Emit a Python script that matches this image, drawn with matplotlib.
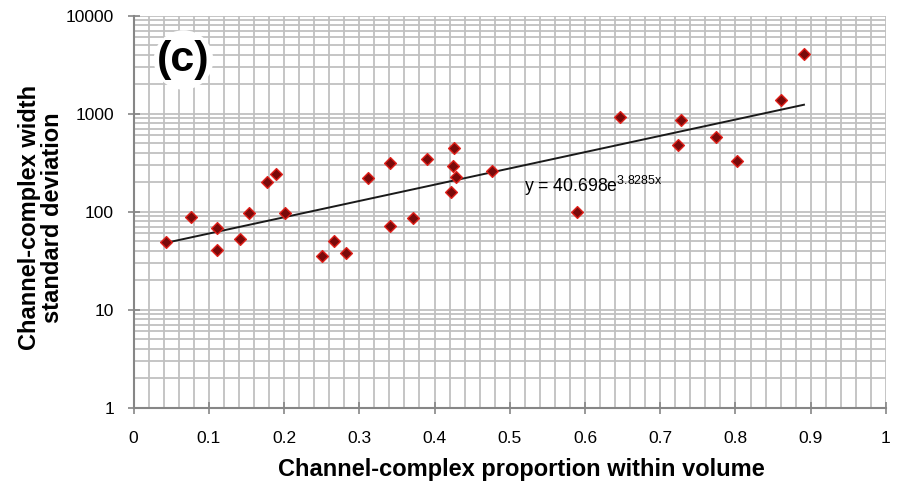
import numpy as np
import matplotlib
matplotlib.use("Agg")
import matplotlib.pyplot as plt
from matplotlib.ticker import LogLocator, FixedLocator, NullFormatter

plt.rcParams['font.family'] = ['Liberation Sans', 'DejaVu Sans']

# Channel-complex proportion within volume
proportion = [0.043, 0.076, 0.111, 0.111, 0.142, 0.154, 0.177, 0.189, 0.201,
              0.251, 0.267, 0.282, 0.311, 0.341, 0.341, 0.371, 0.390, 0.422,
              0.426, 0.425, 0.428, 0.476, 0.590, 0.646, 0.724, 0.728, 0.774,
              0.802, 0.861, 0.891]
# Channel-complex width standard deviation
width_sd = [48.6, 88, 67.6, 40.8, 52.9, 96.8, 200, 242, 97.5,
            35.5, 50.5, 37.8, 222, 313, 70.8, 85.4, 342, 157,
            449, 294, 225, 260, 99, 931, 479, 855, 582,
            326, 1368, 4093]

# Exponential trend fit y = a * exp(b x)
fit_a = 40.698
fit_b = 3.8285

x_ticks = [0, 0.1, 0.2, 0.3, 0.4, 0.5, 0.6, 0.7, 0.8, 0.9, 1]
x_tick_labels = ['0', '0.1', '0.2', '0.3', '0.4', '0.5', '0.6', '0.7', '0.8', '0.9', '1']
y_ticks = [1, 10, 100, 1000, 10000]
y_tick_labels = ['1', '10', '100', '1000', '10000']

fig = plt.figure(figsize=(8.98, 4.86), dpi=100)
ax = fig.add_axes([0.1487, 0.1615, 0.8379, 0.8062])

ax.set_yscale('log')
ax.set_xlim(0, 1)
ax.set_ylim(1, 10000)

grid_color = '#c0c0c0'
ax.set_xticks(x_ticks)
ax.set_xticklabels(x_tick_labels)
ax.xaxis.set_minor_locator(FixedLocator(np.arange(0, 1.0001, 0.02)))
ax.set_yticks(y_ticks)
ax.set_yticklabels(y_tick_labels)
ax.yaxis.set_minor_locator(LogLocator(base=10, subs=np.arange(2, 10)))
ax.yaxis.set_minor_formatter(NullFormatter())

ax.grid(True, which='both', color=grid_color, linewidth=1.3)
ax.set_axisbelow(True)

for side in ['top', 'right']:
    ax.spines[side].set_visible(False)
for side in ['left', 'bottom']:
    ax.spines[side].set_color('#868686')
    ax.spines[side].set_linewidth(1.5)

ax.tick_params(axis='both', which='major', direction='inout', length=8,
               width=1.2, color='#868686', labelsize=12.5, labelcolor='black')
ax.tick_params(axis='both', which='minor', length=0)
ax.tick_params(axis='x', which='major', pad=13)
ax.tick_params(axis='y', which='major', pad=10)

# Trend line over the data range
xs = np.linspace(min(proportion), max(proportion), 200)
ax.plot(xs, fit_a * np.exp(fit_b * xs), color='#1a1a1a', linewidth=1.4, zorder=3)

ax.scatter(proportion, width_sd, marker='D', s=36, facecolor='#7a0a0a',
           edgecolor='#e0201a', linewidth=1.0, zorder=4)

ax.text(0.519, 182, r'y = 40.698e$^{\mathregular{3.8285x}}$', fontsize=12.7,
        va='center', ha='left', zorder=5)

ax.text(0.0664, 0.887, '(c)', transform=ax.transAxes, fontsize=31,
        fontweight='bold', ha='center', va='center', zorder=5,
        bbox=dict(boxstyle='circle,pad=0.08', facecolor='white', edgecolor='none'))

ax.set_xlabel('Channel-complex proportion within volume', fontsize=17,
              fontweight='bold')
ax.xaxis.label.set_va('center')
ax.xaxis.set_label_coords(0.515, -0.159)

ax.set_ylabel('Channel-complex width\nstandard deviation', fontsize=17,
              fontweight='bold', linespacing=0.95)
ax.yaxis.label.set_va('center')
ax.yaxis.set_label_coords(-0.123, 0.484)

fig.savefig('out.png', dpi=100)
